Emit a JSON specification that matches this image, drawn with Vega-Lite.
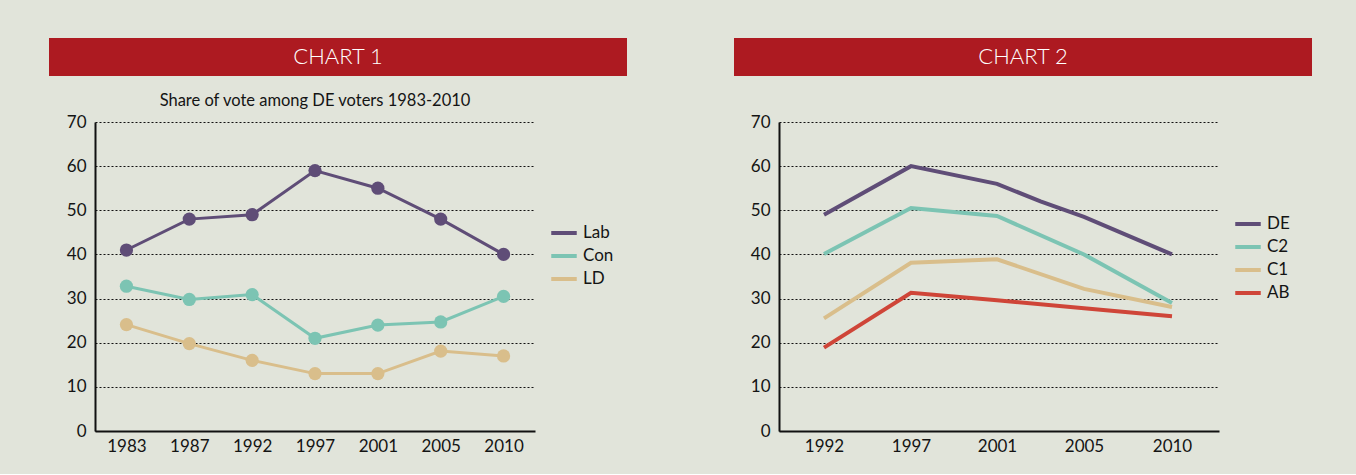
{
  "$schema": "https://vega.github.io/schema/vega-lite/v6.json",
  "background": "#e1e4da",
  "padding": {"left": 49, "top": 38, "right": 44, "bottom": 20},
  "columns": 2,
  "spacing": {"column": 107, "row": 16},
  "resolve": {"scale": {"color": "independent"}, "legend": {"color": "independent"}},
  "config": {
    "font": "Lato",
    "view": {"stroke": null},
    "axis": {"labelFont": "Lato", "labelFontSize": 17, "labelColor": "#141414", "title": null, "ticks": false, "domainColor": "#111111", "domainWidth": 2},
    "legend": {"labelFont": "Lato", "labelFontSize": 17, "labelColor": "#141414", "title": null, "symbolType": "stroke", "symbolStrokeWidth": 4, "symbolSize": 650, "padding": 0, "rowPadding": -3, "labelOffset": 4}
  },
  "datasets": {
    "chart1": [
      {"party": "Lab", "year": "1983", "share": 41},
      {"party": "Lab", "year": "1987", "share": 48},
      {"party": "Lab", "year": "1992", "share": 49},
      {"party": "Lab", "year": "1997", "share": 59},
      {"party": "Lab", "year": "2001", "share": 55},
      {"party": "Lab", "year": "2005", "share": 48},
      {"party": "Lab", "year": "2010", "share": 40},
      {"party": "Con", "year": "1983", "share": 32.8},
      {"party": "Con", "year": "1987", "share": 29.8},
      {"party": "Con", "year": "1992", "share": 30.9},
      {"party": "Con", "year": "1997", "share": 21},
      {"party": "Con", "year": "2001", "share": 24},
      {"party": "Con", "year": "2005", "share": 24.7},
      {"party": "Con", "year": "2010", "share": 30.5},
      {"party": "LD", "year": "1983", "share": 24.1},
      {"party": "LD", "year": "1987", "share": 19.8},
      {"party": "LD", "year": "1992", "share": 16},
      {"party": "LD", "year": "1997", "share": 13},
      {"party": "LD", "year": "2001", "share": 13},
      {"party": "LD", "year": "2005", "share": 18.1},
      {"party": "LD", "year": "2010", "share": 17}
    ],
    "chart2": [
      {"group": "DE", "year": 1992, "share": 49},
      {"group": "DE", "year": 1997, "share": 60},
      {"group": "DE", "year": 2001, "share": 56},
      {"group": "DE", "year": 2003, "share": 52},
      {"group": "DE", "year": 2005, "share": 48.5},
      {"group": "DE", "year": 2010, "share": 40},
      {"group": "C2", "year": 1992, "share": 40.1},
      {"group": "C2", "year": 1997, "share": 50.5},
      {"group": "C2", "year": 2001, "share": 48.7},
      {"group": "C2", "year": 2005, "share": 40},
      {"group": "C2", "year": 2010, "share": 29},
      {"group": "C1", "year": 1992, "share": 25.5},
      {"group": "C1", "year": 1997, "share": 38.1},
      {"group": "C1", "year": 2001, "share": 38.9},
      {"group": "C1", "year": 2005, "share": 32.2},
      {"group": "C1", "year": 2010, "share": 28.1},
      {"group": "AB", "year": 1992, "share": 18.9},
      {"group": "AB", "year": 1997, "share": 31.3},
      {"group": "AB", "year": 2001, "share": 29.6},
      {"group": "AB", "year": 2005, "share": 27.8},
      {"group": "AB", "year": 2010, "share": 26}
    ]
  },
  "concat": [
    {
      "width": 578, "height": 38,
      "data": {"values": [{"label": "CHART 1"}]},
      "view": {"fill": "#ad1a21", "stroke": null},
      "mark": {"type": "text", "color": "#ffffff", "fontSize": 22, "fontWeight": 300, "font": "Lato"},
      "encoding": {"text": {"field": "label"}}
    },
    {
      "width": 578, "height": 38,
      "data": {"values": [{"label": "CHART 2"}]},
      "view": {"fill": "#ad1a21", "stroke": null},
      "mark": {"type": "text", "color": "#ffffff", "fontSize": 22, "fontWeight": 300, "font": "Lato"},
      "encoding": {"text": {"field": "label"}}
    },
    {
      "width": 578, "height": 309,
      "title": {"text": "Share of vote among DE voters 1983-2010", "font": "Lato", "fontSize": 16.5, "fontWeight": "normal", "color": "#141414", "dx": -23, "offset": -12, "baseline": "bottom"},
      "data": {"name": "chart1"},
      "encoding": {
        "x": {"field": "year", "type": "ordinal", "scale": {"type": "point", "range": [46, 486], "padding": 0.5},
              "axis": {"labelAngle": 0, "labelPadding": 7, "grid": false}},
        "y": {"field": "share", "type": "quantitative", "scale": {"domain": [0, 70], "nice": false},
              "axis": {"offset": -46, "values": [0, 10, 20, 30, 40, 50, 60, 70], "grid": true, "gridColor": "#111111", "gridDash": [2, 2], "gridWidth": 1, "labelPadding": 9}},
        "color": {"field": "party", "type": "nominal",
                  "scale": {"domain": ["Lab", "Con", "LD"], "range": ["#5f4d77", "#7cc4b3", "#d9be8b"]},
                  "legend": {"orient": "none", "legendX": 500, "legendY": 96}}
      },
      "layer": [
        {"mark": {"type": "line", "strokeWidth": 3}},
        {"mark": {"type": "point", "filled": true, "size": 175, "opacity": 1}}
      ]
    },
    {
      "width": 578, "height": 309,
      "data": {"name": "chart2"},
      "mark": {"type": "line", "strokeWidth": 4},
      "encoding": {
        "x": {"field": "year", "type": "quantitative",
              "scale": {"domain": [1990, 1992, 1997, 2001, 2005, 2010, 2012], "range": [45, 90, 177, 263, 350, 438, 485], "zero": false, "nice": false},
              "axis": {"values": [1992, 1997, 2001, 2005, 2010], "format": "d", "labelPadding": 7, "grid": false}},
        "y": {"field": "share", "type": "quantitative", "scale": {"domain": [0, 70], "nice": false},
              "axis": {"offset": -45, "values": [0, 10, 20, 30, 40, 50, 60, 70], "grid": true, "gridColor": "#111111", "gridDash": [2, 2], "gridWidth": 1, "labelPadding": 9}},
        "color": {"field": "group", "type": "nominal",
                  "scale": {"domain": ["DE", "C2", "C1", "AB"], "range": ["#5f4d77", "#7cc4b3", "#d9be8b", "#cf4538"]},
                  "legend": {"orient": "none", "legendX": 499, "legendY": 87}}
      }
    }
  ]
}
